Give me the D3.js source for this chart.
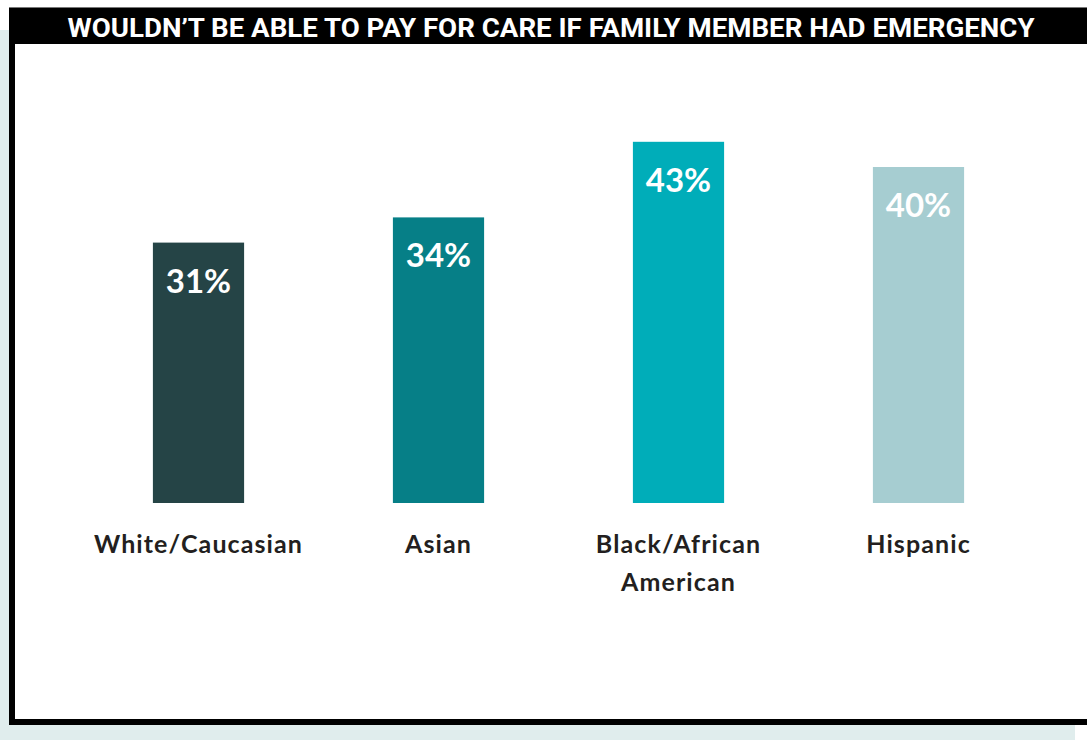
<!DOCTYPE html>
<html>
<head>
<meta charset="utf-8">
<script src="https://cdn.jsdelivr.net/npm/d3@7"></script>
<style>
  body { margin: 0; background: #fff; }
  svg { display: block; }
</style>
</head>
<body>
<div id="chart"></div>
<script>
// data
const title = "WOULDN\u2019T BE ABLE TO PAY FOR CARE IF FAMILY MEMBER HAD EMERGENCY";
const categories = ["White/Caucasian", "Asian", "Black/African|American", "Hispanic"];
const values = [31, 34, 43, 40];
const barColors = ["#254446", "#067f87", "#00adb9", "#a6cdd1"];

const W = 1087, H = 740;

const svg = d3.select("#chart")
  .append("svg")
  .attr("width", W)
  .attr("height", H);

// page background + panel
svg.append("rect").attr("x", 0).attr("y", 30).attr("width", 1075).attr("height", H - 30).attr("fill", "#e0eded");
svg.append("rect").attr("x", 9).attr("y", 7).attr("width", W - 9).attr("height", 718).attr("fill", "#000");
svg.append("rect").attr("x", 15).attr("y", 44).attr("width", W - 15).attr("height", 675).attr("fill", "#fff");
svg.append("line").attr("x1", 9).attr("x2", W).attr("y1", 7.5).attr("y2", 7.5)
  .attr("stroke", "#777").attr("stroke-width", 1);

svg.append("text")
  .attr("x", 551)
  .attr("y", 37)
  .attr("text-anchor", "middle")
  .attr("fill", "#fff")
  .attr("font-family", "Roboto, 'Liberation Sans', sans-serif")
  .attr("font-weight", 700)
  .attr("font-size", 26)
  .attr("textLength", 967)
  .attr("lengthAdjust", "spacingAndGlyphs")
  .text(title);

// scales
const x = d3.scaleBand()
  .domain(categories)
  .range([78.5, 1038.5])
  .paddingInner(0.62)
  .paddingOuter(0.31);

const y = d3.scaleLinear()
  .domain([0, 50])
  .range([503, 83]);

// bars
svg.append("g")
  .selectAll("rect")
  .data(categories)
  .join("rect")
  .attr("x", d => x(d))
  .attr("y", (d, i) => y(values[i]))
  .attr("width", x.bandwidth())
  .attr("height", (d, i) => y(0) - y(values[i]))
  .attr("fill", (d, i) => barColors[i]);

// value labels
svg.append("g")
  .selectAll("text")
  .data(categories)
  .join("text")
  .attr("x", d => x(d) + x.bandwidth() / 2)
  .attr("y", (d, i) => y(values[i]) + 50)
  .attr("text-anchor", "middle")
  .attr("fill", "#fff")
  .attr("font-family", "Lato, Roboto, sans-serif")
  .attr("font-weight", 700)
  .attr("font-size", 33)
  .text((d, i) => values[i] + "%");

// category labels
const cat = svg.append("g")
  .selectAll("text")
  .data(categories)
  .join("text")
  .attr("x", d => x(d) + x.bandwidth() / 2)
  .attr("y", 553)
  .attr("text-anchor", "middle")
  .attr("fill", "#231f20")
  .attr("font-family", "Lato, Roboto, sans-serif")
  .attr("font-weight", 700)
  .attr("font-size", 25)
  .attr("letter-spacing", 1.1);

cat.selectAll("tspan")
  .data(d => d.split("|").map(t => ({t, cx: x(d) + x.bandwidth() / 2})))
  .join("tspan")
  .attr("x", d => d.cx)
  .attr("dy", (d, i) => i === 0 ? 0 : 38)
  .text(d => d.t);
</script>
</body>
</html>
